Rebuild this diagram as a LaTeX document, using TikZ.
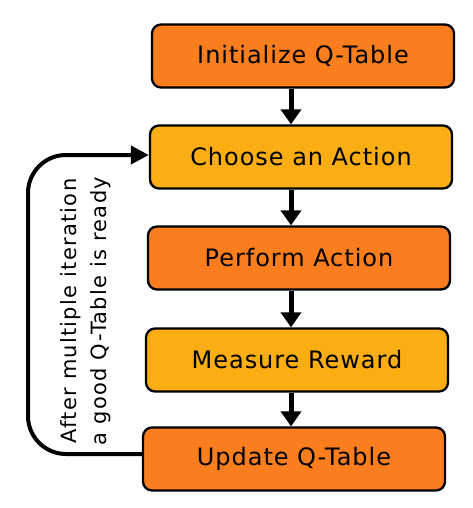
\documentclass[tikz,border=0pt]{standalone}
\usepackage{fontspec}
\setmainfont{DejaVu Sans}[LetterSpace=4]
\newfontfamily\notefont{DejaVu Sans}[LetterSpace=6]
\usetikzlibrary{arrows.meta}
\definecolor{qorange}{RGB}{250,126,30}
\definecolor{qamber}{RGB}{250,174,20}
\tikzset{
  stepbox/.style={draw=black, line width=2.3pt, rounded corners=9pt, minimum width=302pt, minimum height=63pt, inner sep=0pt, font=\fontsize{24}{28}\selectfont},
  flow/.style={line width=5pt, -{Triangle[length=15pt,width=20pt]}},
  loop/.style={line width=4pt, rounded corners=38pt, -{Triangle[length=18pt,width=18pt]}}
}
\begin{document}
\begin{tikzpicture}[x=1pt,y=-1pt]
\useasboundingbox (0,0) rectangle (472,508);
\node[stepbox, fill=qorange] (init) at (303,56) {Initialize Q-Table};
\node[stepbox, fill=qamber] (choose) at (301,157) {Choose an Action};
\node[stepbox, fill=qorange] (perform) at (299,258) {Perform Action};
\node[stepbox, fill=qamber] (measure) at (297,360) {Measure Reward};
\node[stepbox, fill=qorange] (update) at (294,459) {Update Q-Table};
\draw[flow] (init.south -| 291,0) -- (choose.north -| 291,0);
\draw[flow] (choose.south -| 291,0) -- (perform.north -| 291,0);
\draw[flow] (perform.south -| 291,0) -- (measure.north -| 291,0);
\draw[flow] (measure.south -| 291,0) -- (update.north -| 291,0);
\coordinate (bl) at (28,454);
\coordinate (tl) at (28,155);
\draw[loop] (update.west |- 0,454) -- (bl) -- (tl) -- (choose.west |- 0,155);
\node[rotate=90, align=center, font=\notefont\fontsize{21}{30}\selectfont] (note) at (86,311) {After multiple iteration\\a good Q-Table is ready};
\end{tikzpicture}
\end{document}
